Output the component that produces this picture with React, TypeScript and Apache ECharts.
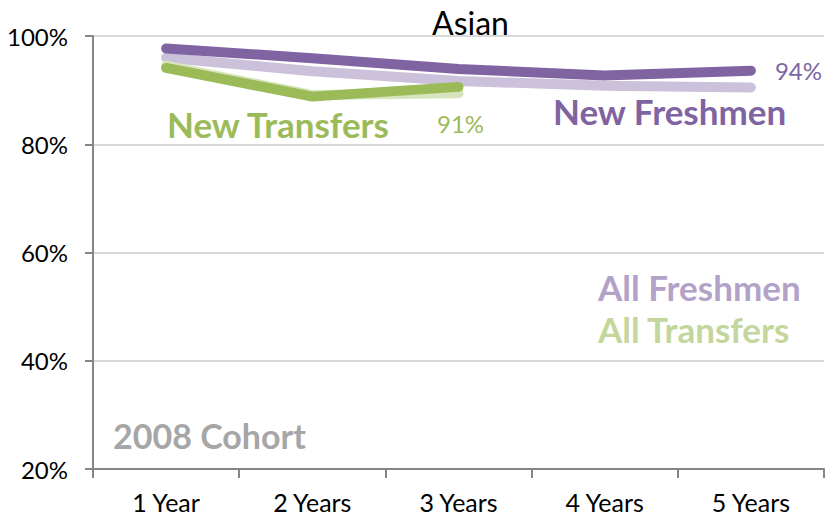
import React, { useEffect, useRef } from "react";
import * as echarts from "echarts";

const categories = ["1 Year", "2 Years", "3 Years", "4 Years", "5 Years"];
const allFreshmen = [96.0, 93.5, 91.7, 90.8, 90.5];
const allTransfers = [94.5, 89.1, 89.4];
const newFreshmen = [97.7, 95.9, 93.9, 92.7, 93.6];
const newTransfers = [94.1, 88.8, 90.6];
const yTicks = { min: 20, max: 100, interval: 20 };

const FONT = "Lato, 'Noto Sans', sans-serif";
const DARK_PURPLE = "#8064A2";
const LIGHT_PURPLE = "#CCC1DA";
const GREEN = "#9BBB59";
const LIGHT_GREEN = "#D7E4BD";

export default function App() {
  const ref = useRef<HTMLDivElement>(null);
  useEffect(() => {
    document.body.style.margin = "0";
    const chart = echarts.init(ref.current!, null, { renderer: "svg" });
    const lineStyle = (color: string) => ({ color, width: 10, cap: "round", join: "round" });
    const pct = (p: any) => Math.round(Array.isArray(p.value) ? p.value[1] : p.value) + "%";
    chart.setOption({
      animation: false,
      backgroundColor: "#fff",
      title: {
        text: "Asian",
        left: 427,
        top: 1,
        textStyle: { fontFamily: FONT, fontSize: 32, fontWeight: "normal", color: "#000" },
      },
      grid: { left: 93, right: 1, top: 36, bottom: 47, containLabel: false },
      xAxis: {
        type: "category",
        data: categories,
        boundaryGap: true,
        axisLine: { lineStyle: { color: "#868686", width: 2 } },
        axisTick: { show: true, length: 9, lineStyle: { color: "#868686", width: 2 } },
        axisLabel: { color: "#000", fontFamily: FONT, fontSize: 25, margin: 20 },
      },
      yAxis: {
        type: "value",
        min: yTicks.min,
        max: yTicks.max,
        interval: yTicks.interval,
        axisLine: { show: true, lineStyle: { color: "#868686", width: 2 } },
        axisTick: { show: true, length: 8, lineStyle: { color: "#868686", width: 2 } },
        splitLine: { show: true, lineStyle: { color: "#D9D9D9", width: 2 } },
        axisLabel: { color: "#000", fontFamily: FONT, fontSize: 24, margin: 25, formatter: "{value}%" },
      },
      series: [
        { name: "All Freshmen", type: "line", data: allFreshmen, symbol: "none", lineStyle: lineStyle(LIGHT_PURPLE), z: 2 },
        { name: "All Transfers", type: "line", data: allTransfers, symbol: "none", lineStyle: lineStyle(LIGHT_GREEN), z: 2 },
        {
          name: "New Freshmen",
          type: "line",
          data: newFreshmen,
          symbol: "none",
          lineStyle: lineStyle(DARK_PURPLE),
          z: 3,
          endLabel: {
            show: true,
            formatter: pct,
            distance: 24,
            color: DARK_PURPLE,
            fontFamily: FONT,
            fontSize: 24,
          },
        },
        {
          name: "New Transfers",
          type: "line",
          data: newTransfers,
          symbol: "none",
          lineStyle: lineStyle(GREEN),
          z: 3,
          endLabel: {
            show: true,
            formatter: pct,
            distance: 0,
            align: "center",
            verticalAlign: "middle",
            offset: [2, 37],
            color: GREEN,
            fontFamily: FONT,
            fontSize: 24,
          },
        },
      ],
      graphic: [
        { type: "text", left: 167, top: 106, style: { text: "New Transfers", fill: GREEN, font: `bold 35px ${FONT}` } },
        { type: "text", left: 553, top: 93, style: { text: "New Freshmen", fill: DARK_PURPLE, font: `bold 35px ${FONT}` } },
        { type: "text", left: 598, top: 269, style: { text: "All Freshmen", fill: "#B3A2C7", font: `bold 35px ${FONT}` } },
        { type: "text", left: 598, top: 311, style: { text: "All Transfers", fill: "#C3D69B", font: `bold 35px ${FONT}` } },
        { type: "text", left: 113, top: 418, style: { text: "2008 Cohort", fill: "#A6A6A6", font: `bold 34px ${FONT}` } },
      ],
    });
    return () => chart.dispose();
  }, []);
  return <div ref={ref} style={{ position: "fixed", left: 0, top: 0, width: 825, height: 516 }} />;
}
